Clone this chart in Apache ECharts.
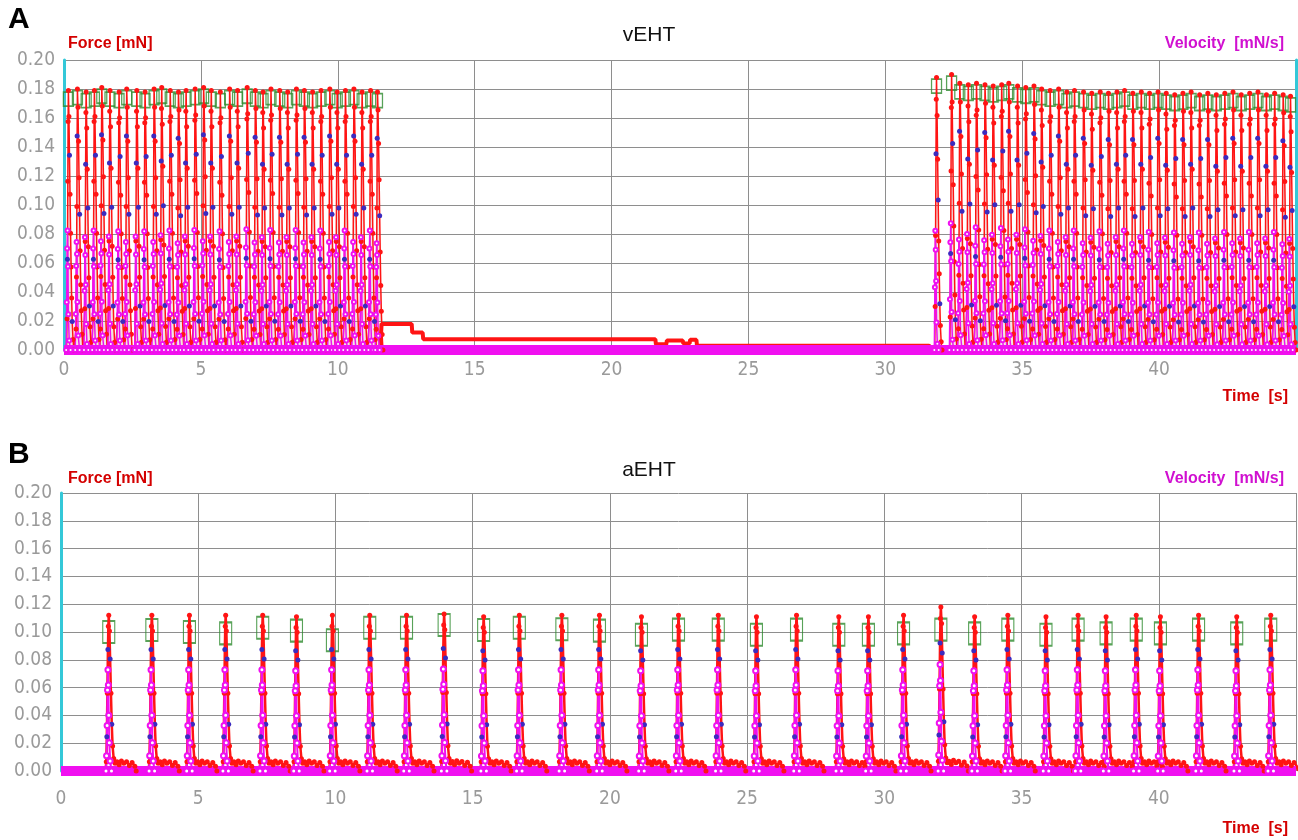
<!DOCTYPE html>
<html>
<head>
<meta charset="utf-8">
<script src="https://cdn.jsdelivr.net/npm/echarts@6/dist/echarts.min.js"></script>
<style>
html,body{margin:0;padding:0;background:#fff;}
#chart{width:1298px;height:840px;}
</style>
</head>
<body>
<div id="chart"></div>
<script>
// ---------------- DATA ----------------
// Panel A (vEHT): beat peak times [s] and peak forces [mN]
const topBeatTimes = [0.16, 0.49, 0.81, 1.11, 1.38, 1.68, 2.01, 2.29, 2.66, 2.96, 3.29, 3.57, 3.88, 4.18, 4.46, 4.79, 5.10, 5.38, 5.71, 6.05, 6.34, 6.69, 6.99, 7.27, 7.56, 7.88, 8.17, 8.49, 8.78, 9.08, 9.39, 9.71, 9.98, 10.28, 10.59, 10.89, 11.20, 11.45,
  31.87, 32.42, 32.72, 33.03, 33.33, 33.64, 33.94, 34.25, 34.51, 34.83, 35.13, 35.43, 35.71, 36.02, 36.33, 36.63, 36.91, 37.24, 37.54, 37.85, 38.15, 38.46, 38.74, 39.04, 39.35, 39.65, 39.96, 40.26, 40.57, 40.87, 41.17, 41.48, 41.78, 42.09, 42.40, 42.70, 43.00, 43.31, 43.61, 43.92, 44.22, 44.53, 44.80];
const topBeatPeaks = [0.179, 0.180, 0.178, 0.179, 0.181, 0.179, 0.178, 0.180, 0.179, 0.178, 0.180, 0.181, 0.179, 0.178, 0.179, 0.180, 0.181, 0.179, 0.178, 0.180, 0.179, 0.181, 0.179, 0.178, 0.180, 0.179, 0.178, 0.180, 0.179, 0.178, 0.179, 0.180, 0.178, 0.179, 0.180, 0.178, 0.179, 0.178,
  0.188, 0.190, 0.184, 0.183, 0.184, 0.183, 0.182, 0.183, 0.184, 0.182, 0.181, 0.182, 0.180, 0.179, 0.180, 0.178, 0.179, 0.178, 0.177, 0.178, 0.177, 0.178, 0.179, 0.177, 0.178, 0.177, 0.178, 0.177, 0.176, 0.177, 0.178, 0.176, 0.177, 0.176, 0.177, 0.178, 0.176, 0.177, 0.178, 0.176, 0.177, 0.176, 0.175];
// Panel A: force during the quiescent period (step trace)
const topRestTimes  = [11.55, 11.60, 12.70, 12.72, 13.10, 13.12, 21.60, 21.62, 22.00, 22.02, 22.60, 22.62, 22.85, 22.87, 23.10, 23.12, 31.60, 31.70];
const topRestForces = [0.000, 0.018, 0.018, 0.012, 0.012, 0.0075, 0.0075, 0.004, 0.004, 0.0065, 0.0065, 0.0045, 0.0045, 0.007, 0.007, 0.003, 0.003, 0.000];

// Panel B (aEHT): beat peak times [s], peak forces [mN], peak-detection box centres
const botBeatTimes = [1.74, 3.31, 4.68, 6.00, 7.35, 8.58, 9.89, 11.25, 12.59, 13.96, 15.40, 16.70, 18.25, 19.62, 21.15, 22.50, 23.95, 25.34, 26.80, 28.34, 29.42, 30.70, 32.06, 33.29, 34.50, 35.89, 37.06, 38.08, 39.18, 40.06, 41.45, 42.84, 44.08];
const botBeatPeaks = [0.112, 0.112, 0.112, 0.112, 0.112, 0.111, 0.112, 0.112, 0.112, 0.113, 0.111, 0.112, 0.112, 0.112, 0.111, 0.112, 0.112, 0.111, 0.112, 0.111, 0.111, 0.112, 0.118, 0.111, 0.112, 0.111, 0.112, 0.111, 0.112, 0.111, 0.112, 0.111, 0.112];
const botBoxCenters = [0.100, 0.1015, 0.100, 0.099, 0.103, 0.101, 0.094, 0.103, 0.103, 0.105, 0.1015, 0.103, 0.102, 0.101, 0.098, 0.1017, 0.1017, 0.098, 0.1017, 0.098, 0.098, 0.099, 0.1017, 0.099, 0.1017, 0.098, 0.1017, 0.099, 0.1017, 0.099, 0.1017, 0.099, 0.1017];

// Single-beat waveforms (time offset from peak [s], fraction of peak);
// three observed variants of the vEHT beat, used in turn
const topForceShapeDt    = [-0.07, -0.05, -0.035, -0.02, -0.01, 0, 0.02, 0.04, 0.06, 0.08, 0.10, 0.12, 0.14, 0.17, 0.20];
const topForceShapeFracA = [0, 0.12, 0.35, 0.65, 0.88, 1, 0.90, 0.75, 0.60, 0.45, 0.32, 0.20, 0.11, 0.04, 0];
const topForceShapeFracB = [0, 0.08, 0.28, 0.55, 0.82, 1, 0.93, 0.80, 0.66, 0.52, 0.38, 0.25, 0.15, 0.06, 0];
const topForceShapeFracC = [0, 0.16, 0.42, 0.72, 0.92, 1, 0.86, 0.70, 0.55, 0.40, 0.28, 0.17, 0.09, 0.03, 0];
const topVelShapeDt      = [-0.08, -0.06, -0.045, -0.03, -0.015, 0, 0.03, 0.08];
const topVelShapeFracA   = [0, 0.40, 0.85, 1, 0.70, 0.30, 0.08, 0];
const topVelShapeFracB   = [0, 0.30, 0.70, 0.90, 0.80, 0.40, 0.12, 0];
const topVelShapeFracC   = [0, 0.50, 0.95, 0.80, 0.55, 0.22, 0.05, 0];
const topVelRatio = 0.46;

const botForceShapeDt   = [-0.12, -0.09, -0.07, -0.05, -0.03, -0.015, 0, 0.025, 0.05, 0.08, 0.11, 0.14, 0.18, 0.23, 0.30, 0.38, 0.46, 0.55, 0.65, 0.75, 0.85, 0.95, 1.00];
const botForceShapeFrac = [0, 0.06, 0.22, 0.50, 0.78, 0.93, 1, 0.90, 0.72, 0.50, 0.30, 0.16, 0.08, 0.05, 0.06, 0.04, 0.065, 0.05, 0.06, 0.035, 0.055, 0.03, 0];
const botVelShapeDt     = [-0.10, -0.08, -0.06, -0.045, -0.03, -0.015, 0, 0.02, 0.05, 0.10];
const botVelShapeFrac   = [0, 0.15, 0.45, 0.80, 1, 0.85, 0.55, 0.28, 0.10, 0];
const botVelRatio = 0.65;

const topBoxOffset = 0.006;
const velocityBaseline = 0;
const timeRange = [0, 45];

// Tick labels
const yTicks = ['0.00','0.02','0.04','0.06','0.08','0.10','0.12','0.14','0.16','0.18','0.20'];
const xTicks = ['0','5','10','15','20','25','30','35','40'];

// ---------------- BUILD ----------------
const RED = '#ff1414', BLUE = '#3b2bbf', MAG = '#f010f0', GREEN = '#2e8b2e', CYAN = '#34c8d8';
const blueIdxTop = [[2, 7, 12], [4, 9], [3, 8, 11]];
const blueIdxBot = [[2, 4, 8, 10]];

function buildTrace(times, peaks, dts, fracVariants, ratio, blueVariants) {
  const out = [];
  for (let b = 0; b < times.length; b++) {
    const fracs = fracVariants[b % fracVariants.length];
    const blues = blueVariants ? blueVariants[b % blueVariants.length] : [];
    for (let k = 0; k < dts.length; k++) {
      const item = { value: [times[b] + dts[k], peaks[b] * ratio * fracs[k]] };
      if (blues.indexOf(k) >= 0) item.itemStyle = { color: BLUE };
      out.push(item);
    }
  }
  return out;
}

const topForce = buildTrace(topBeatTimes, topBeatPeaks, topForceShapeDt,
  [topForceShapeFracA, topForceShapeFracB, topForceShapeFracC], 1, blueIdxTop);
const topVel = buildTrace(topBeatTimes, topBeatPeaks, topVelShapeDt,
  [topVelShapeFracA, topVelShapeFracB, topVelShapeFracC], topVelRatio, null);
const topRest = topRestTimes.map((t, i) => [t, topRestForces[i]]);
const topBoxes = topBeatTimes.map((t, i) => [t, topBeatPeaks[i] - topBoxOffset]);

const botForce = buildTrace(botBeatTimes, botBeatPeaks, botForceShapeDt, [botForceShapeFrac], 1, blueIdxBot);
const botVel = buildTrace(botBeatTimes, botBeatPeaks, botVelShapeDt, [botVelShapeFrac], botVelRatio, null);
const botBoxes = botBeatTimes.map((t, i) => [t, botBoxCenters[i]]);
const baseline = timeRange.map(t => [t, velocityBaseline]);

const FONT_TICK = '"Liberation Sans Narrow", "DejaVu Sans Condensed", "Roboto", sans-serif';
const FONT_TXT = '"Liberation Sans", Arial, sans-serif';

function yAxisLeft(grid) {
  return {
    type: 'value', gridIndex: grid, position: 'left', min: 0, max: 0.2, interval: 0.02,
    axisLine: { show: true, lineStyle: { color: CYAN, width: 3 } },
    axisTick: { show: false },
    axisLabel: { color: '#9a9a9a', fontSize: 19, fontFamily: FONT_TICK, margin: 9,
      formatter: v => yTicks[Math.round(v / 0.02)] || '' },
    splitLine: { show: true, lineStyle: { color: '#8e8e8e', width: 1 } }
  };
}
function xAxisCfg(grid, margin) {
  return {
    type: 'value', gridIndex: grid, min: timeRange[0], max: timeRange[1], interval: 5,
    axisLine: { show: false }, axisTick: { show: false },
    axisLabel: { color: '#9a9a9a', fontSize: 19, fontFamily: FONT_TICK, margin: margin,
      showMaxLabel: false, formatter: v => xTicks[Math.round(v / 5)] || '' },
    splitLine: { show: true, lineStyle: { color: '#8e8e8e', width: 1 } }
  };
}

function txt(text, pos, size, color, weight) {
  return Object.assign({ text: text, padding: 0, textStyle: { fontSize: size, color: color, fontWeight: weight, fontFamily: FONT_TXT } }, pos);
}

const option = {
  animation: false,
  backgroundColor: '#fff',
  title: [
    txt('A', { left: 8, top: 5 }, 30, '#000', 'bold'),
    txt('B', { left: 8, top: 440 }, 30, '#000', 'bold'),
    txt('vEHT', { left: 'center', top: 25 }, 21, '#111', 'normal'),
    txt('aEHT', { left: 'center', top: 460 }, 21, '#111', 'normal'),
    txt('Force [mN]', { left: 68, top: 36 }, 16, '#d40000', 'bold'),
    txt('Force [mN]', { left: 68, top: 471 }, 16, '#d40000', 'bold'),
    txt('Velocity  [mN/s]', { right: 14, top: 36 }, 16, '#d010d0', 'bold'),
    txt('Velocity  [mN/s]', { right: 14, top: 471 }, 16, '#d010d0', 'bold'),
    txt('Time  [s]', { right: 10, top: 389 }, 16, '#d40000', 'bold'),
    txt('Time  [s]', { right: 10, top: 821 }, 16, '#d40000', 'bold')
  ],
  grid: [
    { left: 64, top: 60, width: 1232, height: 290 },
    { left: 61, top: 493, width: 1235, height: 278 }
  ],
  xAxis: [xAxisCfg(0, 11), xAxisCfg(1, 19)],
  yAxis: [
    yAxisLeft(0),
    { type: 'value', gridIndex: 0, position: 'right', min: 0, max: 0.2, interval: 0.02,
      axisLine: { show: true, lineStyle: { color: CYAN, width: 3 } }, axisTick: { show: false },
      axisLabel: { show: false }, splitLine: { show: false } },
    yAxisLeft(1)
  ],
  series: [
    { name: 'Force', type: 'line', xAxisIndex: 0, yAxisIndex: 0, data: topForce, clip: true,
      symbol: 'circle', symbolSize: 5, itemStyle: { color: RED },
      lineStyle: { color: RED, width: 1.5 }, areaStyle: { color: 'rgba(190,110,110,0.28)' } },
    { name: 'Force rest', type: 'line', xAxisIndex: 0, yAxisIndex: 0, data: topRest, clip: true,
      symbol: 'none', lineStyle: { color: RED, width: 4 } },
    { name: 'Velocity', type: 'line', xAxisIndex: 0, yAxisIndex: 0, data: topVel, clip: true,
      symbol: 'emptyCircle', symbolSize: 4, itemStyle: { color: MAG }, lineStyle: { color: MAG, width: 1.5 } },
    { name: 'Velocity base', type: 'line', xAxisIndex: 0, yAxisIndex: 0, data: baseline, clip: true,
      symbol: 'none', lineStyle: { color: MAG, width: 10 } },
    { name: 'Peaks', type: 'scatter', xAxisIndex: 0, yAxisIndex: 0, data: topBoxes,
      symbol: 'rect', symbolSize: [10, 14],
      itemStyle: { color: 'rgba(0,0,0,0)', borderColor: GREEN, borderWidth: 1.5 } },

    { name: 'Force B', type: 'line', xAxisIndex: 1, yAxisIndex: 2, data: botForce, clip: true,
      symbol: 'circle', symbolSize: 5, itemStyle: { color: RED }, lineStyle: { color: RED, width: 2.5 } },
    { name: 'Velocity B', type: 'line', xAxisIndex: 1, yAxisIndex: 2, data: botVel, clip: true,
      symbol: 'emptyCircle', symbolSize: 5, itemStyle: { color: MAG }, lineStyle: { color: MAG, width: 2 } },
    { name: 'Velocity base B', type: 'line', xAxisIndex: 1, yAxisIndex: 2, data: baseline, clip: true,
      symbol: 'none', lineStyle: { color: MAG, width: 10 } },
    { name: 'Peaks B', type: 'scatter', xAxisIndex: 1, yAxisIndex: 2, data: botBoxes,
      symbol: 'rect', symbolSize: [12, 22],
      itemStyle: { color: 'rgba(0,0,0,0)', borderColor: GREEN, borderWidth: 1.5 } }
  ]
};

const chart = echarts.init(document.getElementById('chart'), null, { renderer: 'canvas' });
chart.setOption(option);
</script>
</body>
</html>
